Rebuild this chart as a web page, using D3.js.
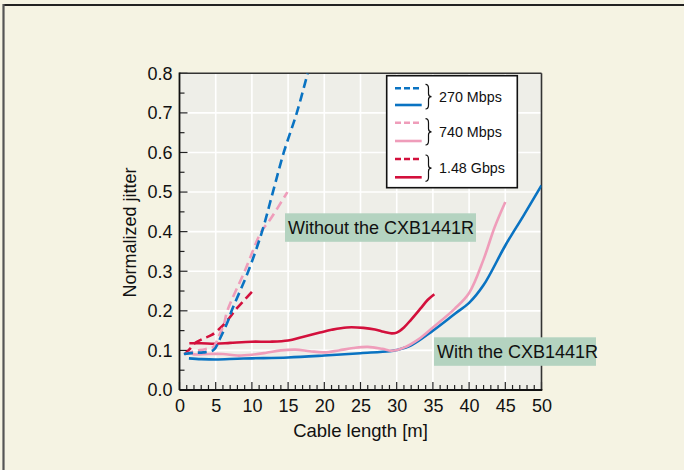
<!DOCTYPE html>
<html><head><meta charset="utf-8">
<script src="https://cdn.jsdelivr.net/npm/d3@7"></script>
<style>
html,body{margin:0;padding:0;background:#f5f3e3;}
svg{display:block;}
text{font-family:"Liberation Sans",Arial,Helvetica,sans-serif;fill:#111;}
</style></head>
<body>
<svg id="c" width="684" height="470"></svg>
<script>
// ---- data ----
const xTicks = [0,5,10,15,20,25,30,35,40,45,50];
const yTicks = [0.0,0.1,0.2,0.3,0.4,0.5,0.6,0.7,0.8];
const seriesNames = ["270 Mbps","740 Mbps","1.48 Gbps"];

// without the CXB1441R (dashed)
const blueDashX = [0.6,2,3.3,4.7,5.6,6.75,7.2,9.5,11.4,12.9,14.4,16.2,17.7];
const blueDashY = [0.091,0.094,0.095,0.101,0.13,0.177,0.2,0.3,0.4,0.5,0.6,0.7,0.8];
const pinkDashX = [0.7,2,3.5,4.7,5.4,6.1,6.6,9.0,11.3,12.5,14.9];
const pinkDashY = [0.09,0.098,0.103,0.109,0.135,0.164,0.2,0.3,0.4,0.43,0.5];
const redDashX  = [0.7,1.5,2.1,3.3,4.45,5.6,6.8,7.9,9,10];
const redDashY  = [0.09,0.105,0.118,0.13,0.139,0.156,0.18,0.206,0.228,0.248];

// with the CXB1441R (solid)
const blueSolX = [1.3,3,5,8,10,15,20,25,29,30,32,35,38,40,42,45,47.5,50];
const blueSolY = [0.08,0.078,0.077,0.079,0.08,0.082,0.087,0.093,0.098,0.101,0.113,0.15,0.192,0.22,0.265,0.365,0.44,0.517];
const pinkSolX = [1.2,2,4,6,8,10,12,14,16,18,20,22,24,26,28,29.3,31,33,35,38,40,42,43.5,45];
const pinkSolY = [0.095,0.09,0.091,0.091,0.087,0.089,0.094,0.1,0.102,0.098,0.095,0.1,0.106,0.109,0.104,0.099,0.107,0.128,0.158,0.205,0.245,0.33,0.41,0.475];
const redSolX  = [1.36,3,5,7,10,12.5,15,17,19.4,21,23.1,25.4,27,28.2,29.3,30,31,32,33.3,34.3,35.2];
const redSolY  = [0.118,0.118,0.117,0.119,0.122,0.122,0.125,0.134,0.145,0.152,0.158,0.157,0.153,0.147,0.143,0.145,0.158,0.178,0.206,0.228,0.242];

const annotations = ["Without the CXB1441R","With the CXB1441R"];

// ---- drawing ----
const colors = ["#0a73c2","#ef9dba","#d3103c"];
const svg = d3.select("#c");
const X0=179.5, X1=541.5, Y0=390, Y1=73.3;
const x = d3.scaleLinear().domain([0,50]).range([X0,X1]);
const y = d3.scaleLinear().domain([0,0.8]).range([Y0,Y1]);

// outer frame
svg.append("rect").attr("x",0).attr("y",0).attr("width",684).attr("height",470).attr("fill","#f5f3e3");
svg.append("line").attr("x1",3).attr("x2",684).attr("y1",5).attr("y2",5).attr("stroke","#222").attr("stroke-width",2);
svg.append("line").attr("x1",3.5).attr("x2",3.5).attr("y1",4).attr("y2",470).attr("stroke","#555").attr("stroke-width",2.2);

// plot bg
svg.append("rect").attr("x",X0).attr("y",Y1).attr("width",X1-X0).attr("height",Y0-Y1).attr("fill","#eeeee8");

// grid
svg.append("g").selectAll("line").data(xTicks.slice(1,-1)).join("line")
  .attr("x1",d=>x(d)).attr("x2",d=>x(d)).attr("y1",Y0).attr("y2",Y1)
  .attr("stroke","#fff").attr("stroke-width",1.6);
svg.append("g").selectAll("line").data(yTicks.slice(1,-1)).join("line")
  .attr("x1",X0).attr("x2",X1).attr("y1",d=>y(d)).attr("y2",d=>y(d))
  .attr("stroke","#fff").attr("stroke-width",1.6);

// axes with inward ticks
const xAxis = d3.axisBottom(x).tickValues(xTicks).tickSize(0).tickPadding(8).tickFormat(d3.format("d"));
const gx = svg.append("g").attr("transform",`translate(0,${Y0})`).call(xAxis);
gx.select(".domain").remove();
gx.selectAll("text").attr("font-size",18).attr("font-family","Liberation Sans, Arial, sans-serif").attr("fill","#111").attr("dy","0.78em");
const yAxis = d3.axisLeft(y).tickValues(yTicks).tickSize(0).tickPadding(7).tickFormat(d3.format(".1f"));
const gy = svg.append("g").attr("transform",`translate(${X0},0)`).call(yAxis);
gy.select(".domain").remove();
gy.selectAll("text").attr("font-size",18).attr("font-family","Liberation Sans, Arial, sans-serif").attr("fill","#111");

// minor ticks
const xMinor = d3.range(0,51,1);
svg.append("g").selectAll("line").data(xMinor).join("line")
  .attr("x1",d=>x(d)).attr("x2",d=>x(d)).attr("y1",Y0).attr("y2",d=>Y0-(d%5===0?8:5))
  .attr("stroke","#222").attr("stroke-width",1.2);
const yMinor = d3.range(0,17).map(i=>i*0.05);
svg.append("g").selectAll("line").data(yMinor).join("line")
  .attr("x1",X0).attr("x2",(d,i)=>X0+(i%2===0?8:5)).attr("y1",d=>y(d)).attr("y2",d=>y(d))
  .attr("stroke","#222").attr("stroke-width",1.2);

// plot border
svg.append("line").attr("x1",X0).attr("x2",X1).attr("y1",Y1).attr("y2",Y1).attr("stroke","#333").attr("stroke-width",1.6);
svg.append("line").attr("x1",X1).attr("x2",X1).attr("y1",Y1).attr("y2",Y0).attr("stroke","#333").attr("stroke-width",1.6);
svg.append("line").attr("x1",X0).attr("x2",X1+0.8).attr("y1",Y0).attr("y2",Y0).attr("stroke","#111").attr("stroke-width",1.8);
svg.append("line").attr("x1",X0).attr("x2",X0).attr("y1",Y1-0.8).attr("y2",Y0).attr("stroke","#111").attr("stroke-width",1.8);

// annotation boxes (drawn before curves? curves pass near; draw after)
const line = d3.line().x(d=>x(d[0])).y(d=>y(d[1])).curve(d3.curveCatmullRom.alpha(0.5));
const zip = (a,b)=>a.map((v,i)=>[v,b[i]]);
const curves = [
  {xs:blueSolX, ys:blueSolY, c:0, dash:null},
  {xs:pinkSolX, ys:pinkSolY, c:1, dash:null},
  {xs:redSolX,  ys:redSolY,  c:2, dash:null},
  {xs:redDashX, ys:redDashY, c:2, dash:"9,5"},
  {xs:pinkDashX,ys:pinkDashY,c:1, dash:"9,5"},
  {xs:blueDashX,ys:blueDashY,c:0, dash:"9,5"}
];
const clip = svg.append("clipPath").attr("id","pc").append("rect")
  .attr("x",X0).attr("y",Y1).attr("width",X1-X0).attr("height",Y0-Y1);
svg.append("g").attr("clip-path","url(#pc)").selectAll("path").data(curves).join("path")
  .attr("d",d=>line(zip(d.xs,d.ys)))
  .attr("fill","none").attr("stroke",d=>colors[d.c]).attr("stroke-width",2.6)
  .attr("stroke-dasharray",d=>d.dash).attr("stroke-linecap","butt");

// annotation boxes
const boxes = [
  {t:annotations[0], x:285, y:213.3, w:191, h:28.5},
  {t:annotations[1], x:434, y:337.3, w:162, h:28.5}
];
boxes.forEach(b=>{
  svg.append("rect").attr("x",b.x).attr("y",b.y).attr("width",b.w).attr("height",b.h).attr("fill","#b4d3c0");
  svg.append("text").attr("x",b.x+3).attr("y",b.y+b.h/2+6.5).attr("font-size",18).text(b.t);
});

// legend
const L = {x:386.7, y:75.7, w:130.6, h:112};
svg.append("rect").attr("x",L.x).attr("y",L.y).attr("width",L.w).attr("height",L.h)
  .attr("fill","#fff").attr("stroke","#111").attr("stroke-width",1.6);
const legRows = [ {d:88.3, s:105}, {d:122.7, s:141}, {d:159, s:177.3} ];
legRows.forEach((r,i)=>{
  svg.append("line").attr("x1",395).attr("x2",421.7).attr("y1",r.d).attr("y2",r.d)
    .attr("stroke",colors[i]).attr("stroke-width",2.6).attr("stroke-dasharray","6,3");
  svg.append("line").attr("x1",395).attr("x2",421.7).attr("y1",r.s).attr("y2",r.s)
    .attr("stroke",colors[i]).attr("stroke-width",2.6);
  // brace
  const bx=425.5, t=r.d-4, b=r.s+4, m=(t+b)/2;
  svg.append("path").attr("d",
    `M${bx},${t} Q${bx+3},${t} ${bx+3},${t+4} L${bx+3},${m-3} Q${bx+3},${m} ${bx+6},${m} Q${bx+3},${m} ${bx+3},${m+3} L${bx+3},${b-4} Q${bx+3},${b} ${bx},${b}`)
    .attr("fill","none").attr("stroke","#111").attr("stroke-width",1.2);
  svg.append("text").attr("x",439).attr("y",m+5).attr("font-size",14.3).text(seriesNames[i]);
});

// axis titles
svg.append("text").attr("x",x(25)).attr("y",437).attr("text-anchor","middle").attr("font-size",18.5).text("Cable length [m]");
svg.append("text").attr("transform",`translate(136,${(167+298)/2}) rotate(-90)`).attr("text-anchor","middle").attr("font-size",18).text("Normalized jitter");
</script>
</body></html>
